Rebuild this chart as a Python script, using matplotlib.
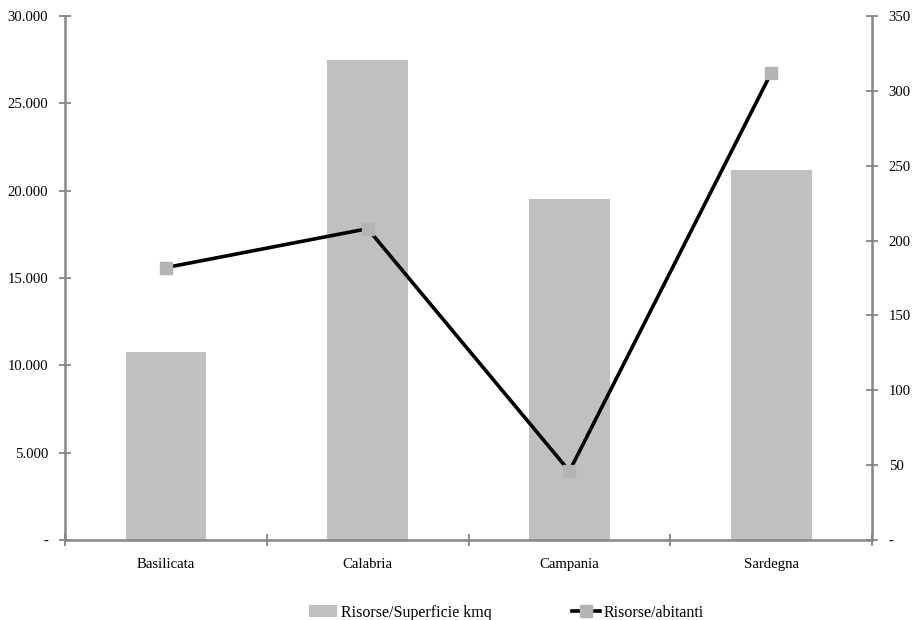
import matplotlib
matplotlib.use("Agg")
import matplotlib.pyplot as plt
from matplotlib.ticker import FuncFormatter

regioni = ["Basilicata", "Calabria", "Campania", "Sardegna"]
risorse_superficie = [10750, 27500, 19500, 21200]
risorse_abitanti = [182, 208, 46, 312]

plt.rcParams["font.family"] = ["Liberation Serif", "DejaVu Serif"]
plt.rcParams["font.size"] = 10.6

axis_col = "#868686"


def fmt_migliaia(v, pos):
    if v == 0:
        return "-"
    return f"{v:,.0f}".replace(",", ".")


fig = plt.figure(figsize=(9.16, 6.2), dpi=100)
ax = fig.add_axes([0.071, 0.129, 0.881, 0.845])
ax2 = ax.twinx()

x = range(len(regioni))
bars = ax.bar(x, risorse_superficie, width=0.4, color="#c0c0c0",
              label="Risorse/Superficie kmq", zorder=1)
line, = ax2.plot(x, risorse_abitanti, color="black", linewidth=2.6,
                 marker="s", markersize=8.5, markerfacecolor="#b4b4b4",
                 markeredgecolor="#b4b4b4", label="Risorse/abitanti")

ax.set_xlim(-0.5, len(regioni) - 0.5)
ax.set_ylim(0, 30000)
ax2.set_ylim(0, 350)
ax.set_yticks(range(0, 30001, 5000))
ax2.set_yticks(range(0, 351, 50))
ax.yaxis.set_major_formatter(FuncFormatter(fmt_migliaia))
ax2.yaxis.set_major_formatter(FuncFormatter(fmt_migliaia))

# etichette categorie al centro, tacche ai bordi
ax.set_xticks([i - 0.5 for i in range(len(regioni) + 1)])
ax.set_xticklabels([])
ax.set_xticks(list(x), minor=True)
ax.set_xticklabels(regioni, minor=True)
ax.tick_params(axis="x", which="minor", length=0, pad=13)
ax.tick_params(axis="x", which="major", direction="inout", length=8,
               width=1.3, color=axis_col)

for a in (ax, ax2):
    a.spines["top"].set_visible(False)
    for s in ("left", "right", "bottom"):
        a.spines[s].set_color(axis_col)
        a.spines[s].set_linewidth(1.8)
ax.spines["right"].set_visible(False)
ax2.spines["left"].set_visible(False)
ax2.spines["bottom"].set_visible(False)

ax.tick_params(axis="y", direction="inout", length=8, width=1.3,
               color=axis_col, pad=8)
ax2.tick_params(axis="y", direction="inout", length=8, width=1.3,
                color=axis_col, pad=8)

fig.legend(handles=[bars, line], loc="lower center",
           bbox_to_anchor=(0.553, -0.024), ncol=2, frameon=False,
           columnspacing=5, handlelength=1.75, handletextpad=0.25,
           fontsize=11.5)

fig.savefig("out.png", dpi=100)
